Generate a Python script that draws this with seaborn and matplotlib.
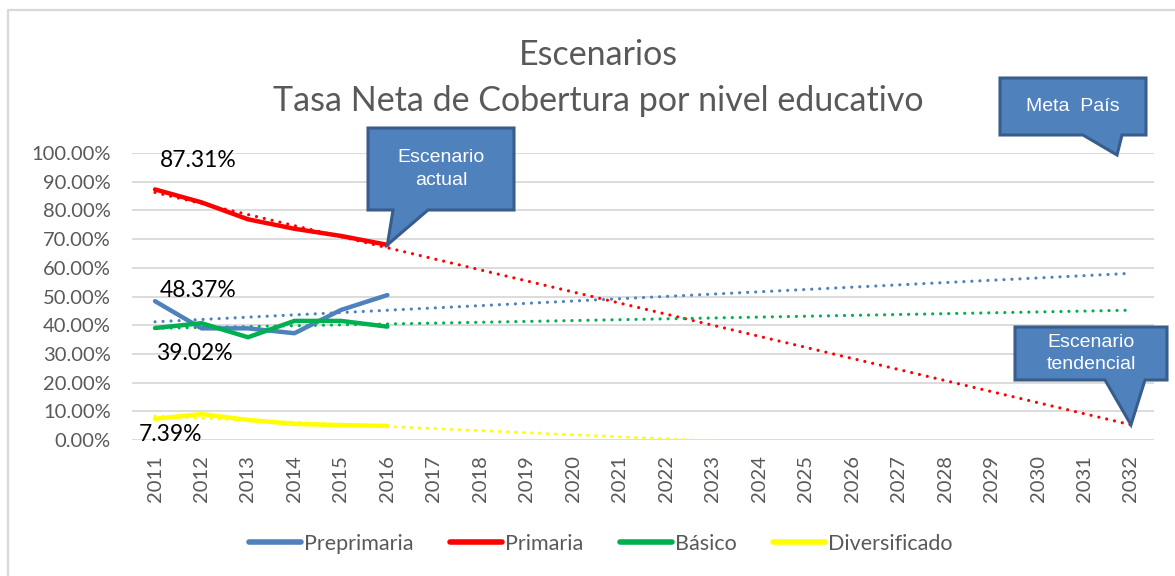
import numpy as np
import pandas as pd
import seaborn as sns
import matplotlib.pyplot as plt
from matplotlib.patches import Polygon
from matplotlib.lines import Line2D
from matplotlib.ticker import PercentFormatter

# data (percent)
years = [2011, 2012, 2013, 2014, 2015, 2016]
preprimaria = [48.37, 38.9, 38.9, 37.2, 45.3, 50.5]
primaria = [87.31, 82.8, 76.9, 73.6, 71.1, 68.0]
basico = [39.02, 40.7, 35.8, 41.5, 41.5, 39.5]
diversificado = [7.39, 9.0, 7.0, 5.6, 5.2, 4.9]
trend_years = list(range(2011, 2033))

niveles = ['Preprimaria', 'Primaria', 'Básico', 'Diversificado']
colores = ['#4F81BD', '#FF0000', '#00B050', '#FFFF00']
series = [preprimaria, primaria, basico, diversificado]

sns.set_theme(style='white')
plt.rcParams['font.family'] = ['Lato', 'DejaVu Sans']

W, H = 1175, 576
fig = plt.figure(figsize=(W / 100, H / 100), dpi=100)
ax = fig.add_axes([131.8 / W, 1 - 440 / H, 1022.4 / W, 287 / H])

# long-form tables for seaborn
df = pd.DataFrame({
    'Año': years * 4,
    'Tasa': preprimaria + primaria + basico + diversificado,
    'Nivel': np.repeat(niveles, len(years)),
})

# linear trendlines (like Excel's) fitted on each series
rows = []
for nivel, vals in zip(niveles, series):
    m, b = np.polyfit(years, vals, 1)
    for yr in trend_years:
        rows.append({'Año': yr, 'Tasa': m * yr + b, 'Nivel': nivel})
trend = pd.DataFrame(rows)

pal = dict(zip(niveles, colores))
sns.lineplot(data=trend, x='Año', y='Tasa', hue='Nivel', palette=pal, ax=ax,
             legend=False, linewidth=2.3, linestyle=(0, (0.01, 2.5)),
             dash_capstyle='round', zorder=2)
sns.lineplot(data=df, x='Año', y='Tasa', hue='Nivel', palette=pal, ax=ax,
             legend=False, linewidth=3.2, solid_capstyle='round', zorder=3)

ax.set_xlim(2010.5, 2032.5)
ax.set_ylim(0, 100)
ax.set_yticks(np.arange(0, 101, 10))
ax.yaxis.set_major_formatter(PercentFormatter(xmax=100, decimals=2))
ax.set_xticks(trend_years)
ax.set_xticklabels([str(y) for y in trend_years], rotation=90)
ax.tick_params(axis='both', length=0, labelsize=14.5, colors='#595959')
ax.tick_params(axis='y', pad=15)
ax.tick_params(axis='x', pad=11)
ax.set_xlabel('')
ax.set_ylabel('')
ax.yaxis.grid(True, color='#D9D9D9', linewidth=1.3)
ax.set_axisbelow(True)
for s in ax.spines.values():
    s.set_visible(False)

# data labels for 2011
lab_kw = dict(textcoords='offset points', fontsize=16.5, color='black',
              ha='center', va='center')
ax.annotate(f'{primaria[0]:.2f}%', (years[0], primaria[0]), xytext=(31, 21), **lab_kw)
ax.annotate(f'{preprimaria[0]:.2f}%', (years[0], preprimaria[0]), xytext=(31, 8), **lab_kw)
ax.annotate(f'{basico[0]:.2f}%', (years[0], basico[0]), xytext=(28, -18), **lab_kw)
ax.annotate(f'{diversificado[0]:.2f}%', (years[0], diversificado[0]), xytext=(11, -11), **lab_kw)

# titles
fig.text(598 / W, 1 - 55 / H, 'Escenarios', ha='center', va='center',
         fontsize=24.5, color='#595959')
fig.text(598 / W, 1 - 101 / H, 'Tasa Neta de Cobertura por nivel educativo',
         ha='center', va='center', fontsize=24.5, color='#595959')


def px(x, y):
    return (x / W, 1 - y / H)


def callout(box, base, tip, text):
    x0, y0, x1, y1 = box
    tx, ty = fig.transFigure.inverted().transform(ax.transData.transform(tip))
    verts = [px(x0, y0), px(x1, y0), px(x1, y1), px(base[1], y1), (tx, ty),
             px(base[0], y1), px(x0, y1)]
    fig.add_artist(Polygon(verts, closed=True, transform=fig.transFigure,
                           facecolor='#4F81BD', edgecolor='#385D8A',
                           linewidth=2.2, joinstyle='miter', zorder=5))
    cx, cy = px((x0 + x1) / 2, (y0 + y1) / 2)
    fig.text(cx, cy, text, ha='center', va='center', color='white',
             fontsize=14, family='Liberation Sans', linespacing=1.4, zorder=6)


callout((368, 128, 514, 210), (393, 428), (2016, primaria[-1]), 'Escenario\nactual')
callout((1000, 78, 1146, 135), (1083, 1122), (2031.7, 99.3), 'Meta  País')
m_p, b_p = np.polyfit(years, primaria, 1)
callout((1015, 327, 1167, 380), (1105, 1145), (2032, m_p * 2032 + b_p),
        'Escenario\ntendencial')

# legend
handles = [Line2D([], [], color=c, linewidth=4, solid_capstyle='round') for c in colores]
leg = fig.legend(handles, niveles, loc='center', bbox_to_anchor=(601 / W, 1 - 544 / H),
                 ncol=4, frameon=False, fontsize=15.5, handlelength=2.4,
                 handletextpad=0.15, columnspacing=1.7)
for t in leg.get_texts():
    t.set_color('#595959')

# outer chart border (only left and top edges visible)
fig.add_artist(Line2D([8 / W, 8 / W, 1], [0, 1 - 9.5 / H, 1 - 9.5 / H],
                      transform=fig.transFigure, color='#D9D9D9', linewidth=1.6))

fig.savefig('out.png', dpi=100)
